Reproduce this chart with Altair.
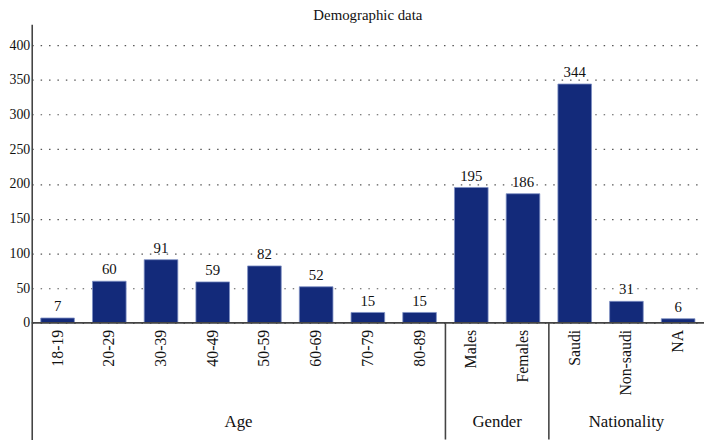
import altair as alt
import pandas as pd

categories = ["18-19", "20-29", "30-39", "40-49", "50-59", "60-69", "70-79", "80-89",
              "Males", "Females", "Saudi", "Non-saudi", "NA"]
values = [7, 60, 91, 59, 82, 52, 15, 15, 195, 186, 344, 31, 6]
groups = ["Age"] * 8 + ["Gender"] * 2 + ["Nationality"] * 3
y_ticks = [0, 50, 100, 150, 200, 250, 300, 350, 400]

df = pd.DataFrame({"cat": categories, "value": values, "group": groups,
                   "idx": list(range(len(categories)))})

gdf = df.groupby("group", sort=False).agg(center=("idx", "mean"), lo=("idx", "min")).reset_index()
sep = gdf[gdf["lo"] > 0].copy()
sep["pos"] = sep["lo"] - 0.5

FONT = "Liberation Serif"
NAVY = "#132a7a"
xscale = alt.Scale(domain=[-0.5, len(categories) - 0.5], nice=False, zero=False)
yscale = alt.Scale(domain=[-168, 430], nice=False, zero=False)

base = alt.Chart(df)

bars = base.transform_calculate(
    x0="datum.idx - 0.325", x1="datum.idx + 0.325"
).mark_bar(color=NAVY, stroke="#7d8fc4", strokeWidth=0.8).encode(
    x=alt.X("x0:Q", scale=xscale, axis=None),
    x2="x1:Q",
    y=alt.Y("value:Q", scale=yscale,
            axis=alt.Axis(values=y_ticks, ticks=False, title=None, labelFont=FONT,
                          labelFontSize=14, labelColor="#111", labelPadding=2,
                          domainColor="#444", domainWidth=1.6,
                          grid=True, gridDash=[1.5, 7], gridColor="#555", gridWidth=1.2)),
    y2=alt.datum(0),
)

vlabels = base.mark_text(font=FONT, fontSize=15, baseline="bottom", dy=-4, color="#111").encode(
    x=alt.X("idx:Q", scale=xscale),
    y=alt.Y("value:Q", scale=yscale),
    text="value:Q",
)

zero_rule = alt.Chart(pd.DataFrame({"z": [0]})).mark_rule(color="#444", strokeWidth=1.6).encode(
    y=alt.Y("z:Q", scale=yscale),
)

sep_rules = alt.Chart(sep).transform_calculate(zero="0", bottom="-168").mark_rule(
    color="#444", strokeWidth=1.6).encode(
    x=alt.X("pos:Q", scale=xscale),
    y=alt.Y("zero:Q", scale=yscale),
    y2=alt.Y2("bottom:Q"),
)

cat_labels = base.mark_text(font=FONT, fontSize=16, angle=270, align="right",
                            baseline="middle", dx=-7, color="#111").encode(
    x=alt.X("idx:Q", scale=xscale),
    y=alt.datum(0),
    text="cat:N",
)

group_labels = alt.Chart(gdf).mark_text(font=FONT, fontSize=17, baseline="middle", color="#111").encode(
    x=alt.X("center:Q", scale=xscale),
    y=alt.value(402),
    text="group:N",
)

chart = alt.layer(bars, vlabels, zero_rule, sep_rules, cat_labels, group_labels).properties(
    width=680, height=420,
    title=alt.TitleParams("Demographic data", font=FONT, fontSize=15, fontWeight="normal",
                          color="#111", offset=0, dy=-1),
    autosize=alt.AutoSizeParams(type="none"),
    padding={"left": 24, "top": 14, "right": 0, "bottom": 0},
).configure_view(stroke=None)

chart.save("out.html", embed_options={"renderer": "svg", "actions": False})
